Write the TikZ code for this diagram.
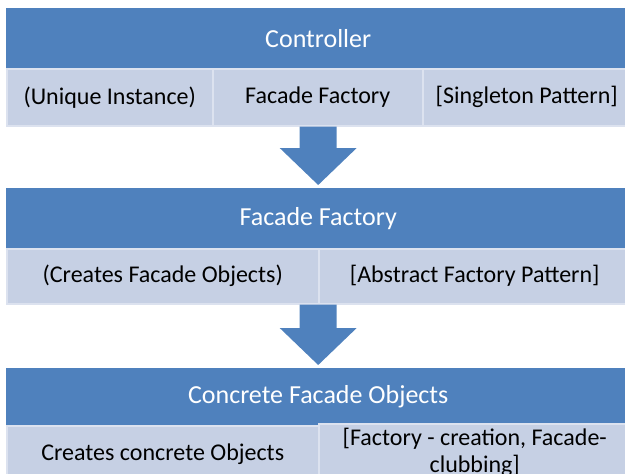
\documentclass[tikz,border=0pt]{standalone}
\usepackage{fontspec}
\setmainfont{Carlito}
\usetikzlibrary{calc}
\definecolor{headblue}{HTML}{4F81BD}
\definecolor{cellfill}{HTML}{C6D0E4}
\definecolor{cellline}{HTML}{DCE2EF}
\tikzset{
  header/.style={rectangle, anchor=north west, fill=headblue, inner sep=0pt,
    text=white, font=\fontsize{26}{30}\selectfont},
  cell/.style={rectangle, anchor=north west, fill=cellfill, draw=cellline,
    line width=1.5pt, inner sep=0pt, text=black, align=center,
    font=\fontsize{24}{27}\selectfont},
  flowarrow/.style={fill=headblue}
}
% block arrow from the bottom of one block (#1) down to the top of the next (#2)
\newcommand\flowdown[2]{%
  \fill[flowarrow] let \p1=(#1), \p2=(#2) in
    (\x1-18.5pt,\y1) -- (\x1+18.5pt,\y1) -- (\x1+18.5pt,\y2+40pt)
    -- (\x1+38.5pt,\y2+40pt) -- (\x1,\y2+3pt) -- (\x1-38.5pt,\y2+40pt)
    -- (\x1-18.5pt,\y2+40pt) -- cycle;}
\begin{document}
\begin{tikzpicture}[x=1pt,y=-1pt]
\useasboundingbox (0,0) rectangle (625,474);
\clip (0,0) rectangle (625,474);

% Controller
\node[header, minimum width=624pt, minimum height=60pt] (h1) at (6,8) {Controller};
\node[cell, minimum width=206pt, minimum height=57pt] (c1a) at (6,68) {(Unique Instance)};
\node[cell, minimum width=210pt, minimum height=57pt] (c1b) at (212,68) {Facade Factory};
\node[cell, minimum width=208pt, minimum height=57pt] (c1c) at (422,68) {[Singleton Pattern]};

% Facade Factory
\node[header, minimum width=624pt, minimum height=60pt] (h2) at (6,188) {Facade Factory};
\node[cell, minimum width=312pt, minimum height=55pt] (c2a) at (6,248) {(Creates Facade Objects)};
\node[cell, minimum width=312pt, minimum height=55pt] (c2b) at (318,248) {[Abstract Factory Pattern]};

% Concrete Facade Objects
\node[header, minimum width=624pt, minimum height=57pt] (h3) at (6,368) {Concrete\ Facade Objects};
\node[cell, minimum width=312pt, minimum height=56pt] (c3a) at (6,425) {Creates concrete Objects};
\node[cell, minimum width=312pt, minimum height=58pt] (c3b) at (318,423)
  {[Factory - creation, Facade-\\clubbing]};

% arrows between the blocks
\flowdown{h1.south |- c1b.south}{h2.north}
\flowdown{h2.south |- c2a.south}{h3.north}
\end{tikzpicture}
\end{document}
